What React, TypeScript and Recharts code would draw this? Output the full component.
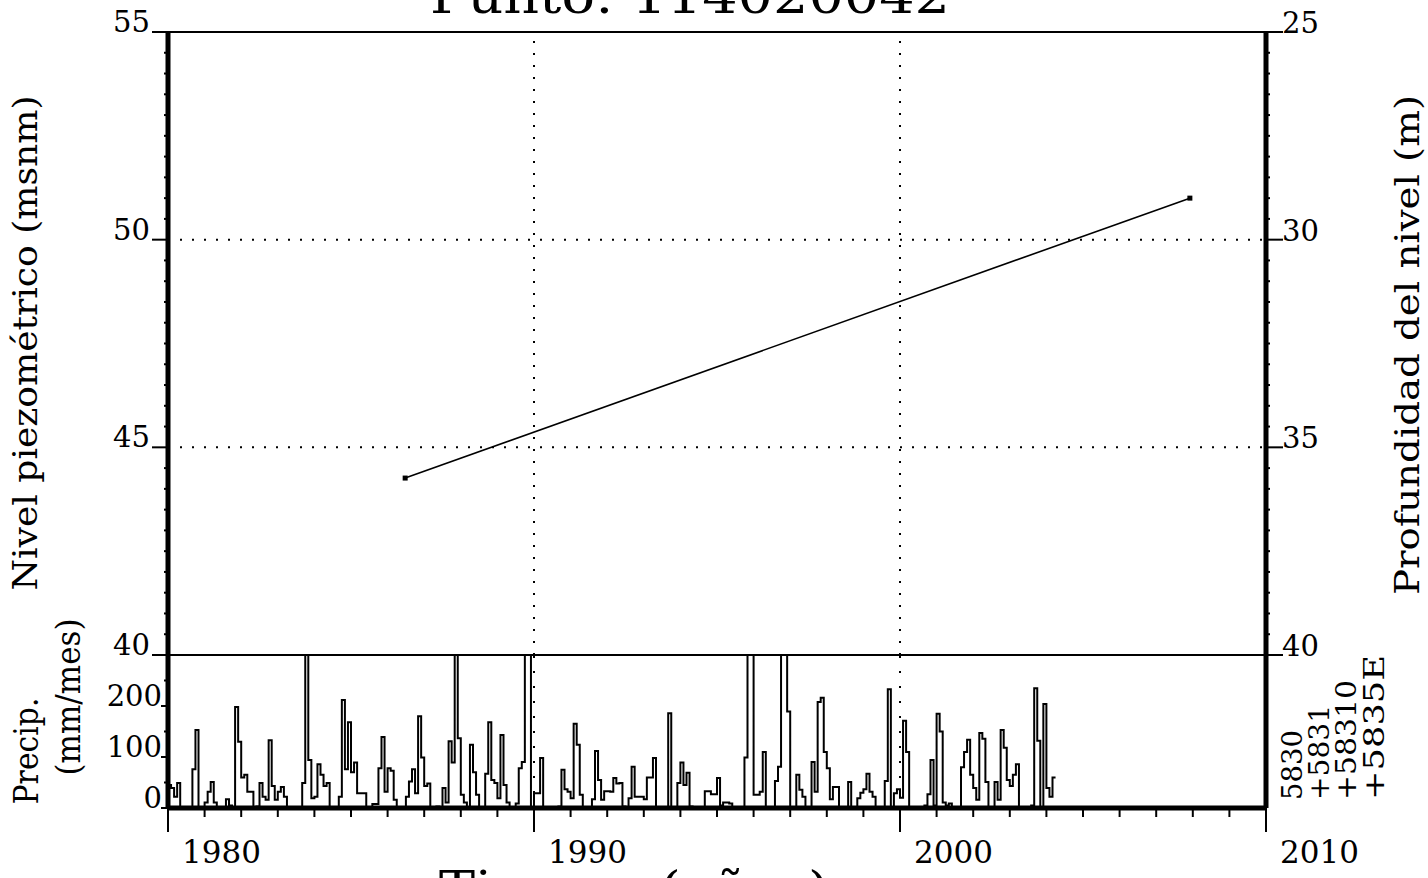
import React from 'react';
import { LineChart, Line, XAxis, YAxis, ReferenceLine } from 'recharts';

const FONT = '"DejaVu Serif", serif';

// ---- data -------------------------------------------------------------
const PRECIP_START_YEAR = 1980;
const P1980 = [45, 39, 22, 49, 0, 0, 0, 0, 76, 153, 0, 0];
const P1981 = [11, 32, 51, 11, 0, 0, 0, 17, 5, 0, 198, 130];
const P1982 = [60, 65, 32, 32, 0, 3, 49, 22, 16, 133, 43, 16];
const P1983 = [32, 41, 22, 0, 2, 2, 0, 0, 49, 380, 94, 19];
const P1984 = [22, 86, 65, 43, 49, 0, 0, 0, 22, 212, 76, 168];
const P1985 = [70, 89, 29, 29, 29, 0, 0, 8, 8, 78, 139, 32];
const P1986 = [78, 73, 16, 0, 0, 0, 22, 52, 76, 29, 180, 99];
const P1987 = [43, 48, 0, 0, 3, 0, 39, 11, 131, 89, 380, 137];
const P1988 = [26, 11, 0, 124, 70, 26, 0, 0, 67, 168, 55, 49];
const P1989 = [19, 143, 45, 11, 0, 0, 9, 78, 90, 380, 380, 0];
const P1990 = [29, 29, 98, 0, 0, 0, 0, 0, 3, 75, 37, 32];
const P1991 = [19, 165, 124, 26, 0, 2, 0, 17, 112, 55, 16, 33];
const P1992 = [33, 32, 59, 48, 49, 3, 0, 19, 81, 22, 22, 22];
const P1993 = [17, 60, 60, 98, 0, 0, 0, 0, 186, 0, 0, 49];
const P1994 = [89, 45, 69, 3, 0, 0, 0, 0, 33, 33, 27, 27];
const P1995 = [59, 5, 11, 11, 9, 0, 0, 2, 0, 99, 380, 380];
const P1996 = [26, 26, 32, 110, 0, 0, 0, 53, 81, 380, 380, 189];
const P1997 = [0, 0, 65, 36, 22, 0, 0, 90, 32, 208, 216, 110];
const P1998 = [78, 17, 41, 41, 0, 0, 0, 51, 0, 0, 19, 30];
const P1999 = [37, 67, 32, 22, 0, 0, 0, 53, 233, 0, 29, 37];
const P2000 = [20, 171, 110, 0, 0, 0, 0, 0, 5, 27, 94, 5];
const P2001 = [185, 150, 11, 5, 9, 0, 0, 0, 80, 110, 134, 65];
const P2002 = [39, 16, 147, 136, 51, 0, 0, 51, 16, 153, 118, 55];
const P2003 = [43, 65, 86, 0, 0, 0, 0, 5, 235, 132, 0, 204];
const P2004 = [39, 22, 60];
const PRECIP_YEARS = [P1980, P1981, P1982, P1983, P1984, P1985, P1986, P1987, P1988, P1989,
  P1990, P1991, P1992, P1993, P1994, P1995, P1996, P1997, P1998, P1999,
  P2000, P2001, P2002, P2003, P2004];

const LEVEL_DATES = [1986.48, 2007.92];
const LEVEL_VALUES = [44.26, 51.0];

const X_TICKS = [1980, 1981, 1982, 1983, 1984, 1985, 1986, 1987, 1988, 1989, 1990, 1991, 1992,
  1993, 1994, 1995, 1996, 1997, 1998, 1999, 2000, 2001, 2002, 2003, 2004, 2005, 2006, 2007,
  2008, 2009, 2010];
const X_LABELS = [1980, 1990, 2000, 2010];
const GRID_YEARS = [1990, 2000];
const GRID_LEVELS = [45, 50];
const LEVEL_LABELS = [40, 45, 50, 55];
const DEPTH_LABELS = [25, 30, 35, 40];
const PRECIP_TICKS = [0, 50, 100, 150, 200, 250];
const PRECIP_LABELS = [0, 100, 200];

const LEVEL_TICKS: number[] = [];
for (let v = 40; v <= 55; v += 0.5) LEVEL_TICKS.push(v);
const DEPTH_TICKS: number[] = [];
for (let v = 25; v <= 40; v += 0.5) DEPTH_TICKS.push(v);

// ---- build tables ----------------------------------------------------
const precipData: { x: number; p: number }[] = [];
PRECIP_YEARS.forEach((arr, yi) => {
  arr.forEach((v, mi) => precipData.push({ x: PRECIP_START_YEAR + yi + mi / 12, p: v }));
});
{
  const last = precipData[precipData.length - 1];
  precipData.push({ x: last.x + 1 / 12, p: last.p });
}
const levelData = LEVEL_DATES.map((d, i) => ({ x: d, lvl: LEVEL_VALUES[i] }));

// ---- layout ----------------------------------------------------------
const W = 1428;
const H = 878;
const PLOT_LEFT = 168;
const PLOT_RIGHT = 1266;
const TOP = 32;
const MID = 655;
const BOTTOM = 808;

const LeftTick = (labels: number[], majorLen: number, labelGap: number) => (props: any) => {
  const { x, y, payload } = props;
  const v = payload.value;
  const major = labels.includes(v);
  return (
    <g>
      <line x1={x - (major ? majorLen : 4)} x2={x} y1={y} y2={y} stroke="#000" strokeWidth={2} />
      {major && (
        <text x={x - labelGap} y={y} textAnchor="end" fontSize={29} fontFamily={FONT} fill="#000">
          {v}
        </text>
      )}
    </g>
  );
};

const RightTick = (props: any) => {
  const { x, y, payload } = props;
  const v = payload.value;
  const major = DEPTH_LABELS.includes(v);
  return (
    <g>
      <line x1={x} x2={x + (major ? 17 : 4)} y1={y} y2={y} stroke="#000" strokeWidth={2} />
      {major && (
        <text x={x + 16} y={y + 1} textAnchor="start" fontSize={29} fontFamily={FONT} fill="#000">
          {v}
        </text>
      )}
    </g>
  );
};

const BottomTick = (props: any) => {
  const { x, y, payload } = props;
  const v = payload.value;
  const major = X_LABELS.includes(v);
  return (
    <g>
      <line x1={x} x2={x} y1={y} y2={y + (major ? 24 : 9)} stroke="#000" strokeWidth={2} />
      {major && (
        <text x={x + 14} y={y + 55} textAnchor="start" fontSize={31} fontFamily={FONT} fill="#000">
          {v}
        </text>
      )}
    </g>
  );
};

const SquareDot = (props: any) => {
  const { cx, cy, index } = props;
  if (cx == null || cy == null) return <g key={index} />;
  return <rect key={index} x={cx - 2.5} y={cy - 2.5} width={5} height={5} fill="#000" />;
};

const RotText = ({ x, y, len, size, anchor = 'middle', children }: any) => (
  <text
    transform={`translate(${x},${y}) rotate(-90)`}
    textAnchor={anchor}
    fontSize={size}
    fontFamily={FONT}
    fill="#000"
    textLength={len}
    lengthAdjust="spacingAndGlyphs"
  >
    {children}
  </text>
);

export default function App() {
  return (
    <div style={{ position: 'absolute', left: 0, top: 0, width: W, height: H, background: '#fff', overflow: 'hidden' }}>
      {/* upper panel: piezometric level */}
      <div style={{ position: 'absolute', left: 0, top: 0 }}>
        <LineChart width={W} height={H} data={levelData}
          margin={{ top: TOP, right: 0, bottom: H - MID, left: 0 }}>
          <XAxis dataKey="x" type="number" domain={[1980, 2010]} hide allowDataOverflow />
          <YAxis yAxisId="lvl" orientation="left" width={PLOT_LEFT} type="number" domain={[40, 55]}
            ticks={LEVEL_TICKS} interval={0} tickSize={0} tickMargin={0}
            axisLine={{ stroke: '#000', strokeWidth: 5 }} tickLine={false}
            tick={LeftTick(LEVEL_LABELS, 16, 18)} allowDataOverflow />
          <YAxis yAxisId="dep" orientation="right" width={W - PLOT_RIGHT} type="number" domain={[25, 40]}
            reversed ticks={DEPTH_TICKS} interval={0} tickSize={0} tickMargin={0}
            axisLine={{ stroke: '#000', strokeWidth: 5 }} tickLine={false}
            tick={RightTick} allowDataOverflow />
          {GRID_LEVELS.map((g) => (
            <ReferenceLine key={'h' + g} yAxisId="lvl" y={g} stroke="#000" strokeWidth={2} strokeDasharray="2 10" />
          ))}
          {GRID_YEARS.map((g) => (
            <ReferenceLine key={'v' + g} yAxisId="lvl" x={g} stroke="#000" strokeWidth={2} strokeDasharray="2 10" />
          ))}
          <ReferenceLine yAxisId="lvl" y={55} stroke="#000" strokeWidth={2} />
          <ReferenceLine yAxisId="dep" y={40} stroke="#000" strokeWidth={2} />
          <Line yAxisId="lvl" dataKey="lvl" stroke="#000" strokeWidth={1.6} dot={SquareDot}
            isAnimationActive={false} />
        </LineChart>
      </div>

      {/* lower panel: precipitation */}
      <div style={{ position: 'absolute', left: 0, top: 0 }}>
        <LineChart width={W} height={H} data={precipData}
          margin={{ top: MID, right: 0, bottom: 0, left: 0 }}>
          <XAxis dataKey="x" type="number" domain={[1980, 2010]} ticks={X_TICKS} interval={0}
            height={H - BOTTOM} tickSize={0} tickMargin={0} tickLine={false}
            axisLine={{ stroke: '#000', strokeWidth: 5 }} tick={BottomTick} allowDataOverflow />
          <YAxis yAxisId="pr" orientation="left" width={PLOT_LEFT} type="number" domain={[0, 300]}
            ticks={PRECIP_TICKS} interval={0} tickSize={0} tickMargin={0} tickLine={false}
            axisLine={{ stroke: '#000', strokeWidth: 5 }} tick={LeftTick(PRECIP_LABELS, 7, 6)}
            allowDataOverflow />
          <YAxis yAxisId="pr2" orientation="right" width={W - PLOT_RIGHT} type="number" domain={[0, 300]}
            tick={false} tickLine={false} axisLine={{ stroke: '#000', strokeWidth: 5 }} />
          {GRID_YEARS.map((g) => (
            <ReferenceLine key={'pv' + g} yAxisId="pr" x={g} stroke="#000" strokeWidth={2} strokeDasharray="2 13" />
          ))}
          <Line yAxisId="pr" dataKey="p" type="stepAfter" stroke="#000" strokeWidth={2} dot={false}
            isAnimationActive={false} />
        </LineChart>
      </div>

      {/* texts */}
      <svg width={W} height={H} style={{ position: 'absolute', left: 0, top: 0, pointerEvents: 'none' }}>
        <text x={690} y={13} textAnchor="middle" fontSize={48} fontFamily={FONT} fill="#000"
          textLength={520} lengthAdjust="spacingAndGlyphs">Punto: 114020042</text>
        <text x={634} y={906} textAnchor="middle" fontSize={48} fontFamily={FONT} fill="#000"
          textLength={390} lengthAdjust="spacingAndGlyphs">Tiempo (años)</text>
        <RotText x={37} y={343} len={495} size={33}>Nivel piezométrico (msnm)</RotText>
        <RotText x={1419} y={345} len={500} size={33}>Profundidad del nivel (m)</RotText>
        <RotText x={38} y={751} len={107} size={33}>Precip.</RotText>
        <RotText x={80} y={697} len={157} size={33}>(mm/mes)</RotText>
        <RotText x={1302} y={800} len={70} size={27} anchor="start">5830</RotText>
        <RotText x={1329} y={800} len={95} size={27} anchor="start">+5831</RotText>
        <RotText x={1356} y={800} len={120} size={27} anchor="start">+58310</RotText>
        <RotText x={1384} y={800} len={145} size={27} anchor="start">+5835E</RotText>
      </svg>
    </div>
  );
}
